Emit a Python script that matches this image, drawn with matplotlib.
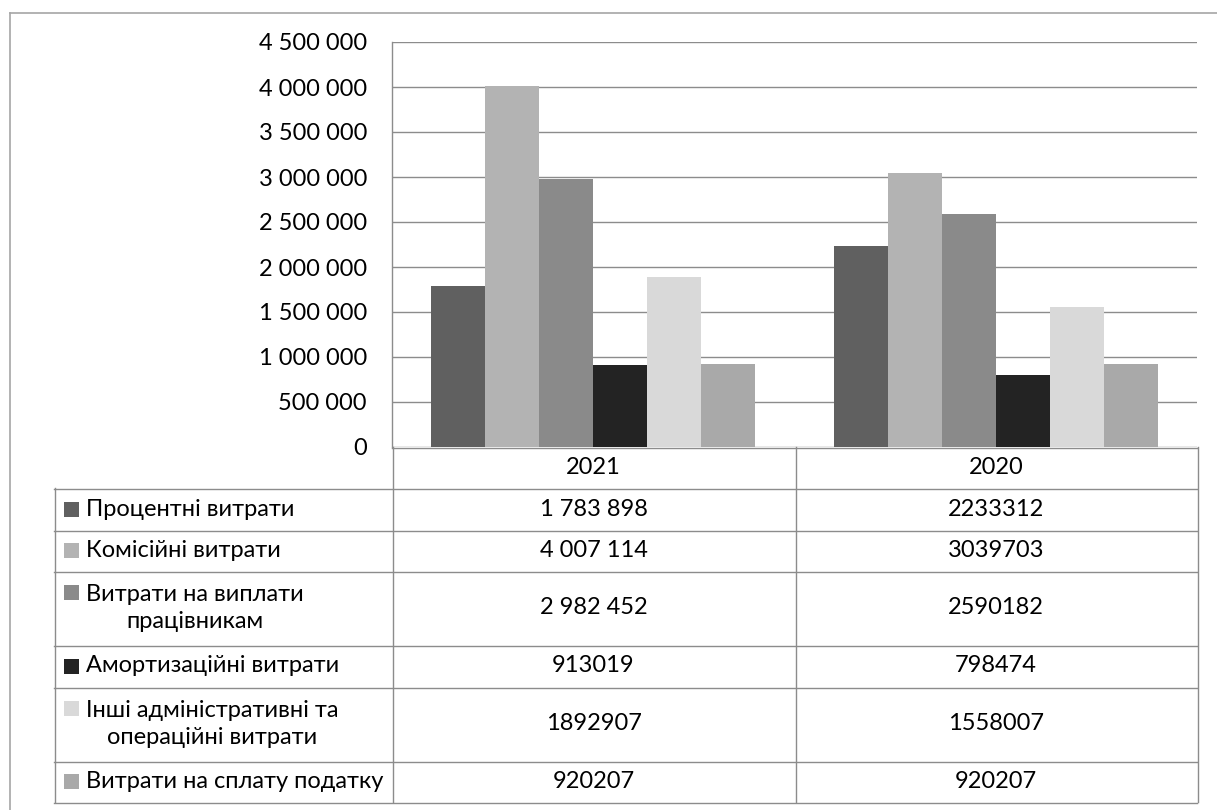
import numpy as np
import matplotlib
matplotlib.use("Agg")
import matplotlib.pyplot as plt
from matplotlib.ticker import FuncFormatter, MultipleLocator

# дані
years = ["2021", "2020"]
series = ["Процентні витрати", "Комісійні витрати", "Витрати на виплати\nпрацівникам",
          "Амортизаційні витрати", "Інші адміністративні та\nопераційні витрати",
          "Витрати на сплату податку"]
v2021 = [1783898, 4007114, 2982452, 913019, 1892907, 920207]
v2020 = [2233312, 3039703, 2590182, 798474, 1558007, 920207]
# у таблиці частина чисел 2021 року записана з пробілами
grouped2021 = [True, True, True, False, False, False]
grouped2020 = [False] * 6
colors = ["#606060", "#b3b3b3", "#8a8a8a", "#232323", "#d9d9d9", "#a9a9a9"]

plt.rcParams["font.family"] = ["Lato", "DejaVu Sans"]
FS = 17
W, H = 1217, 810
line_c = "#8c8c8c"

def fmt(v, grouped=True):
    s = f"{int(v):,}"
    return s.replace(",", " ") if grouped else s.replace(",", "")

fig = plt.figure(figsize=(W / 100, H / 100), dpi=100)

# область діаграми в пікселях
px_l, px_r, px_t, px_b = 392, 1197, 42, 447
ax = fig.add_axes([px_l / W, 1 - px_b / H, (px_r - px_l) / W, (px_b - px_t) / H])

x = np.arange(len(years))
bw = 0.134
for i, name in enumerate(series):
    vals = [v2021[i], v2020[i]]
    ax.bar(x + (i - 2.5) * bw, vals, bw, color=colors[i], zorder=3, linewidth=0)

ax.set_xlim(-0.5, 1.5)
ax.set_ylim(0, 4500000)
ax.yaxis.set_major_locator(MultipleLocator(500000))
ax.yaxis.set_major_formatter(FuncFormatter(lambda v, p: fmt(v)))
ax.grid(axis="y", color=line_c, linewidth=1.0, zorder=0)
ax.set_xticks([])
ax.tick_params(axis="y", length=0, pad=18, labelsize=FS)
for s in ["top", "right", "bottom"]:
    ax.spines[s].set_visible(False)
ax.spines["left"].set_color(line_c)
ax.spines["left"].set_linewidth(1.0)

# таблиця даних під діаграмою
axt = fig.add_axes([0, 0, 1, 1], zorder=5)
axt.set_xlim(0, W)
axt.set_ylim(H, 0)
axt.axis("off")
axt.patch.set_alpha(0)

# зовнішня рамка
axt.plot([9.5, W], [12.5, 12.5], color="#a6a6a6", lw=1.2)
axt.plot([9.5, 9.5], [12.5, H], color="#a6a6a6", lw=1.2)

tab_l = 54
col_mid = 795
rows = [447, 488, 530, 571, 645, 687, 761, 802]

def hl(y, x0, x1):
    axt.plot([x0, x1], [y + 0.5, y + 0.5], color=line_c, lw=1.0)

def vl(xx, y0, y1):
    axt.plot([xx + 0.5, xx + 0.5], [y0, y1], color=line_c, lw=1.0)

hl(rows[0], px_l, px_r)
for y in rows[1:]:
    hl(y, tab_l, px_r)
vl(tab_l, rows[1], rows[-1])
vl(px_l, rows[0], rows[-1])
vl(col_mid, rows[0], rows[-1])
vl(px_r, rows[0], rows[-1])

c1 = (px_l + col_mid) / 2
c2 = (col_mid + px_r) / 2
ym = (rows[0] + rows[1]) / 2
axt.text(c1, ym, years[0], ha="center", va="center", fontsize=FS)
axt.text(c2, ym, years[1], ha="center", va="center", fontsize=FS)

for i, name in enumerate(series):
    y0, y1 = rows[i + 1], rows[i + 2]
    yc = (y0 + y1) / 2
    nlines = name.count("\n") + 1
    sq_y = yc - (nlines - 1) * 16
    axt.add_patch(plt.Rectangle((64, sq_y - 7.5), 15, 15, color=colors[i], lw=0))
    axt.text(86, yc, name, ha="left", va="center", fontsize=FS,
             multialignment="center", linespacing=1.36)
    axt.text(c1, yc, fmt(v2021[i], grouped2021[i]), ha="center", va="center", fontsize=FS)
    axt.text(c2, yc, fmt(v2020[i], grouped2020[i]), ha="center", va="center", fontsize=FS)

fig.savefig("out.png", dpi=100)
